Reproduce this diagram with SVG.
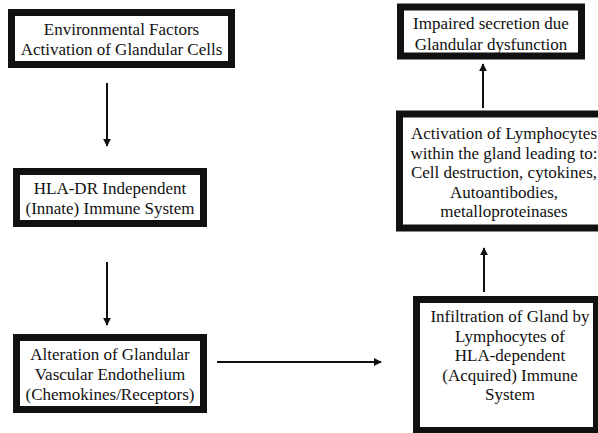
<svg xmlns="http://www.w3.org/2000/svg" width="598" height="433" viewBox="0 0 598 433">
<defs>
<style>
.box{fill:#fff;stroke:#111;stroke-width:7}
.t{font-family:"Liberation Serif",serif;font-size:17px;fill:#111;text-anchor:middle}
.c{stroke:#111;stroke-width:2;fill:none}
</style>
<marker id="ah" viewBox="0 0 10 10" refX="9" refY="5" markerWidth="4" markerHeight="4" orient="auto" markerUnits="strokeWidth">
<path d="M0,0 L10,5 L0,10 z" fill="#111"/>
</marker>
</defs>
<rect width="598" height="433" fill="#fff"/>
<g id="n1">
<rect class="box" x="11.5" y="12.5" width="220" height="52"/>
<text class="t" x="121.5" y="35">Environmental Factors</text>
<text class="t" x="121.5" y="55">Activation of Glandular Cells</text>
</g>
<g id="n2">
<rect class="box" x="16.5" y="171.5" width="187" height="52"/>
<text class="t" x="110" y="193.5">HLA-DR Independent</text>
<text class="t" x="110" y="213.5">(Innate) Immune System</text>
</g>
<g id="n3">
<rect class="box" x="16.5" y="337.5" width="187" height="72"/>
<text class="t" x="110" y="359.5">Alteration of Glandular</text>
<text class="t" x="110" y="379.5">Vascular Endothelium</text>
<text class="t" x="110" y="399.5">(Chemokines/Receptors)</text>
</g>
<g id="n4">
<rect class="box" x="416.5" y="299.5" width="180" height="131"/>
<text class="t" x="510" y="322">Infiltration of Gland by</text>
<text class="t" x="510" y="341.5">Lymphocytes of</text>
<text class="t" x="510" y="361">HLA-dependent</text>
<text class="t" x="510" y="380.5">(Acquired) Immune</text>
<text class="t" x="510" y="400">System</text>
</g>
<g id="n5">
<rect class="box" x="399.5" y="114" width="205" height="114"/>
<text class="t" x="504" y="139">Activation of Lymphocytes</text>
<text class="t" x="504" y="158.5">within the gland leading to:</text>
<text class="t" x="504" y="178">Cell destruction, cytokines,</text>
<text class="t" x="504" y="197.5">Autoantibodies,</text>
<text class="t" x="504" y="217">metalloproteinases</text>
</g>
<g id="n6">
<rect class="box" x="400.5" y="7" width="181" height="49"/>
<text class="t" x="491" y="29">Impaired secretion due</text>
<text class="t" x="491" y="50">Glandular dysfunction</text>
</g>
<g id="connectors">
<line class="c" x1="107" y1="83" x2="107" y2="146" marker-end="url(#ah)"/>
<line class="c" x1="107" y1="262" x2="107" y2="325" marker-end="url(#ah)"/>
<line class="c" x1="217" y1="362" x2="381" y2="362" marker-end="url(#ah)"/>
<line class="c" x1="484" y1="292" x2="484" y2="248" marker-end="url(#ah)"/>
<line class="c" x1="483" y1="108" x2="483" y2="64" marker-end="url(#ah)"/>
</g>
</svg>
